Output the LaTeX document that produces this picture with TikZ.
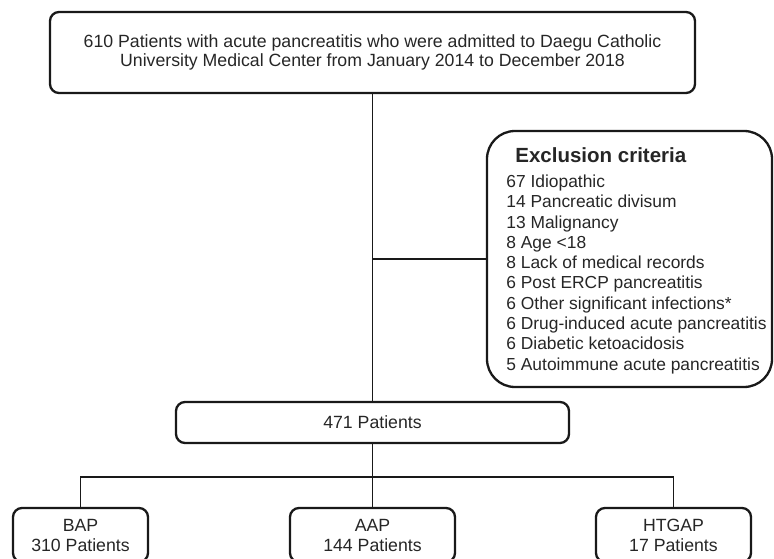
\documentclass[tikz,border=0pt]{standalone}
\usepackage{fontspec}
\setmainfont{Liberation Sans}
\usetikzlibrary{positioning}
\tikzset{
  box/.style={draw=black!90, line width=2.3pt, rounded corners=9pt, align=center,
    text=black!85, font=\fontsize{17.7}{19}\selectfont},
  link/.style={draw=black!90, line width=1.6pt},
}
\begin{document}
\begin{tikzpicture}[x=1pt,y=1pt]
  \useasboundingbox (0,0) rectangle (774,558);
  \node[box, minimum width=645pt, minimum height=81pt] (top) at (372.5,505.5)
    {610 Patients with acute pancreatitis who were admitted to Daegu Catholic\\
     University Medical Center from January 2014 to December 2018};
  \node[box, minimum width=393pt, minimum height=41pt] (pts) at (372.5,135.5) {471 Patients};
  % exclusion list
  \node[box, rounded corners=28pt, minimum width=285pt, minimum height=256pt] (excl) at (629.5,299) {};
  \node[anchor=west, align=left, text=black!85, font=\fontsize{17.4}{20.3}\selectfont] (crit)
    at ([xshift=17pt,yshift=-1.5pt]excl.west)
    {{\fontsize{20.5}{24}\selectfont\bfseries\hspace*{9pt}Exclusion criteria}\\[5pt]
     67 Idiopathic\\
     14 Pancreatic divisum\\
     13 Malignancy\\
     8 Age <18\\
     8 Lack of medical records\\
     6 Post ERCP pancreatitis\\
     6 Other significant infections*\\
     6 Drug-induced acute pancreatitis\\
     6 Diabetic ketoacidosis\\
     5 Autoimmune acute pancreatitis};
  % groups
  \foreach \nm/\x/\w/\grp/\n in {bap/80.5/135/BAP/310, aap/372.5/165/AAP/144, htgap/673.5/155/HTGAP/17} {
    \node[box, minimum width=\w pt, minimum height=54pt, font=\fontsize{17.7}{20}\selectfont] (\nm) at (\x,23)
      {\grp\\\n\ Patients};
  }
  \draw[link] (top.south) -- (pts.north);
  \draw[link] (top.south |- excl.west) -- (excl.west);
  \coordinate (split) at ([yshift=-33pt]pts.south);
  \draw[link] (pts.south) -- (aap.north);
  \draw[link] (bap.north) |- (split) -| (htgap.north);
\end{tikzpicture}
\end{document}
